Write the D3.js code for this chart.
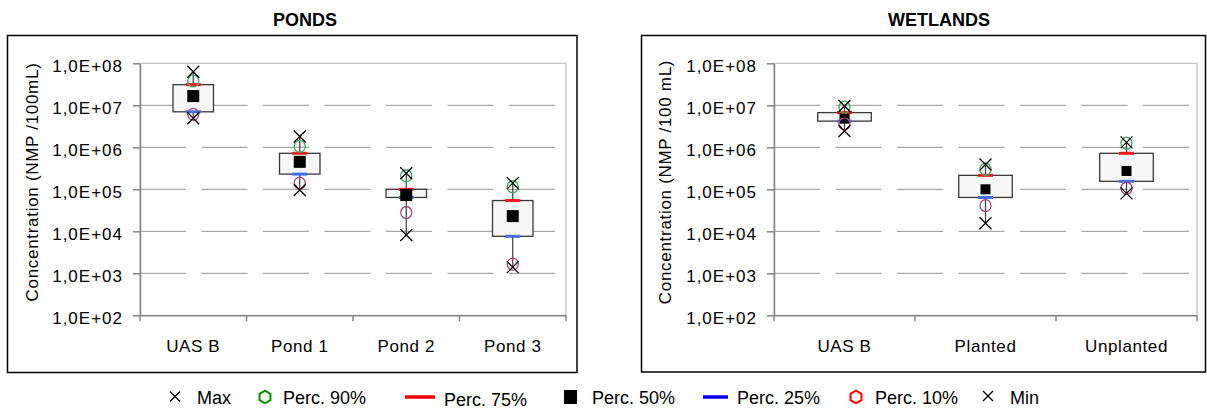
<!DOCTYPE html>
<html>
<head>
<meta charset="utf-8">
<script src="https://cdn.jsdelivr.net/npm/d3@7"></script>
<style>
  body { margin: 0; background: #fff; }
  svg { display: block; font-family: 'Liberation Sans', Arial, sans-serif; }
</style>
</head>
<body>
<svg id="chart" width="1207" height="410"></svg>
<script>
// values (NMP/100 mL)
const pondCategories = ['UAS B', 'Pond 1', 'Pond 2', 'Pond 3']
const pondMax = [6.3e7, 1.8e6, 2.4e5, 1.4e5]
const pondP90 = [3.8e7, 1.05e6, 2.1e5, 1.15e5]
const pondP75 = [3.1e7, 7.2e5, 1.0e5, 5.4e4]
const pondP50 = [1.66e7, 4.5e5, 7.3e4, 2.3e4]
const pondP25 = [7.0e6, 2.3e5, 6.4e4, 7.6e3]
const pondP10 = [6.1e6, 1.4e5, 2.8e4, 1.65e3]
const pondMin = [4.9e6, 9.6e4, 8.2e3, 1.4e3]

const wetlandCategories = ['UAS B', 'Planted', 'Unplanted']
const wetlandMax = [9.6e6, 3.9e5, 1.31e6]
const wetlandP90 = [9.0e6, 3.0e5, 1.25e6]
const wetlandP75 = [6.7e6, 2.15e5, 7.2e5]
const wetlandP50 = [4.8e6, 1.0e5, 2.73e5]
const wetlandP25 = [4.2e6, 6.4e4, 1.55e5]
const wetlandP10 = [3.6e6, 4.1e4, 1.06e5]
const wetlandMin = [2.44e6, 1.55e4, 8.0e4]

const yTickValues = [1e2, 1e3, 1e4, 1e5, 1e6, 1e7, 1e8]
const yTickLabels = ['1,0E+02', '1,0E+03', '1,0E+04', '1,0E+05', '1,0E+06', '1,0E+07', '1,0E+08']

const legendLabels = ['Max', 'Perc. 90%', 'Perc. 75%', 'Perc. 50%', 'Perc. 25%', 'Perc. 10%', 'Min']

const svg = d3.select('#chart')

const panels = [
  {
    title: 'PONDS',
    yLabel: 'Concentration (NMP /100mL)',
    categories: pondCategories,
    max: pondMax, p90: pondP90, p75: pondP75, p50: pondP50, p25: pondP25, p10: pondP10, min: pondMin,
    frame: { x0: 7.5, y0: 35.5, x1: 577, y1: 372.5 },
    plot: { left: 140, right: 566, top: 63.3, bottom: 315.3 },
    titleX: 305,
    yLabelX: 38,
    medianSize: 12
  },
  {
    title: 'WETLANDS',
    yLabel: 'Concentration (NMP /100 mL)',
    categories: wetlandCategories,
    max: wetlandMax, p90: wetlandP90, p75: wetlandP75, p50: wetlandP50, p25: wetlandP25, p10: wetlandP10, min: wetlandMin,
    frame: { x0: 641.5, y0: 35.5, x1: 1205.5, y1: 372 },
    plot: { left: 774, right: 1197, top: 63.3, bottom: 315.3 },
    titleX: 939,
    yLabelX: 671,
    medianSize: 10
  }
]

const axisGrey = '#868686'
const gridGrey = '#a9a9a9'

function cross(sel, cx, cy, h, width) {
  sel.append('path')
    .attr('d', `M${cx - h},${cy - h}L${cx + h},${cy + h}M${cx - h},${cy + h}L${cx + h},${cy - h}`)
    .attr('stroke', '#000')
    .attr('stroke-width', width)
    .attr('fill', 'none')
}

function drawPanel(p) {
  const g = svg.append('g')

  // outer chart frame
  g.append('rect')
    .attr('x', p.frame.x0)
    .attr('y', p.frame.y0)
    .attr('width', p.frame.x1 - p.frame.x0)
    .attr('height', p.frame.y1 - p.frame.y0)
    .attr('fill', 'none')
    .attr('stroke', '#000')
    .attr('stroke-width', 1.5)

  g.append('text')
    .attr('x', p.titleX)
    .attr('y', 25.5)
    .attr('text-anchor', 'middle')
    .attr('font-size', 18)
    .attr('font-weight', 700)
    .text(p.title)

  const x = d3.scaleBand()
    .domain(p.categories)
    .range([p.plot.left, p.plot.right])

  const y = d3.scaleLog()
    .domain([1e2, 1e8])
    .range([p.plot.bottom, p.plot.top])

  // plot area border
  g.append('rect')
    .attr('x', p.plot.left)
    .attr('y', p.plot.top)
    .attr('width', p.plot.right - p.plot.left)
    .attr('height', p.plot.bottom - p.plot.top)
    .attr('fill', 'none')
    .attr('stroke', '#b4b4b4')

  // long dashed grid lines
  g.selectAll('.grid')
    .data(yTickValues.filter(v => v > 1e2 && v < 1e8))
    .join('line')
    .attr('class', 'grid')
    .attr('x1', p.plot.left)
    .attr('x2', p.plot.right)
    .attr('y1', d => y(d))
    .attr('y2', d => y(d))
    .attr('stroke', gridGrey)
    .attr('stroke-width', 1.2)
    .attr('stroke-dasharray', '46,15.5')

  // y axis
  const yAxis = g.append('g')
    .attr('transform', 'translate(' + p.plot.left + ',0)')
    .call(d3.axisLeft(y)
      .tickValues(yTickValues)
      .tickFormat((d, i) => yTickLabels[i])
      .tickSize(7)
      .tickSizeOuter(0)
      .tickPadding(10))
  yAxis.select('.domain').attr('stroke', axisGrey).attr('stroke-width', 1.5)
  yAxis.selectAll('.tick line').attr('stroke', axisGrey).attr('stroke-width', 1.5)
  yAxis.selectAll('.tick text')
    .attr('font-size', 17)
    .attr('font-family', "'Liberation Sans', Arial, sans-serif")
    .attr('letter-spacing', 1)
    .attr('fill', '#000')
    .attr('dy', '0.5em')

  // x axis (labels at band centres, tick marks at band edges)
  const xAxis = g.append('g')
    .attr('transform', 'translate(0,' + p.plot.bottom + ')')
    .call(d3.axisBottom(x).tickSize(0).tickSizeOuter(0).tickPadding(24.6))
  xAxis.select('.domain').attr('stroke', axisGrey).attr('stroke-width', 1.5)
  xAxis.selectAll('.tick text')
    .attr('font-size', 17)
    .attr('font-family', "'Liberation Sans', Arial, sans-serif")
    .attr('letter-spacing', 0.6)
    .attr('fill', '#000')

  const edges = p.categories.map(c => x(c)).concat([x.range()[1]])
  g.selectAll('.xtick')
    .data(edges)
    .join('line')
    .attr('class', 'xtick')
    .attr('x1', d => d)
    .attr('x2', d => d)
    .attr('y1', p.plot.bottom)
    .attr('y2', p.plot.bottom + 6)
    .attr('stroke', axisGrey)
    .attr('stroke-width', 1.5)

  // rotated y label
  g.append('text')
    .attr('transform', 'translate(' + p.yLabelX + ',182) rotate(-90)')
    .attr('text-anchor', 'middle')
    .attr('font-size', 17)
    .attr('letter-spacing', 0.7)
    .text(p.yLabel)

  // box plots
  const rows = p.categories.map((c, i) => ({
    cat: c,
    max: p.max[i],
    p90: p.p90[i],
    p75: p.p75[i],
    p50: p.p50[i],
    p25: p.p25[i],
    p10: p.p10[i],
    min: p.min[i]
  }))
  const boxW = x.bandwidth() * 0.38
  const cx = d => x(d.cat) + x.bandwidth() / 2

  const items = g.selectAll('.item')
    .data(rows)
    .join('g')
    .attr('class', 'item')

  items.append('line')
    .attr('x1', cx)
    .attr('x2', cx)
    .attr('y1', d => y(d.max))
    .attr('y2', d => y(d.min))
    .attr('stroke', '#3a3a3a')
    .attr('stroke-width', 1.2)

  items.append('rect')
    .attr('x', d => cx(d) - boxW / 2)
    .attr('y', d => y(d.p75))
    .attr('width', boxW)
    .attr('height', d => y(d.p25) - y(d.p75))
    .attr('fill', '#f7f7f7')
    .attr('stroke', '#3a3a3a')
    .attr('stroke-width', 1.3)

  items.append('rect')
    .attr('x', d => cx(d) - 7.5)
    .attr('y', d => y(d.p75) - 1.5)
    .attr('width', 15)
    .attr('height', 3)
    .attr('fill', '#f21b1b')

  items.append('rect')
    .attr('x', d => cx(d) - 7.5)
    .attr('y', d => y(d.p25) - 1.5)
    .attr('width', 15)
    .attr('height', 3)
    .attr('fill', '#3f6ff0')

  items.append('rect')
    .attr('x', d => cx(d) - p.medianSize / 2)
    .attr('y', d => y(d.p50) - p.medianSize / 2)
    .attr('width', p.medianSize)
    .attr('height', p.medianSize)
    .attr('fill', '#000')

  items.append('ellipse')
    .attr('cx', cx)
    .attr('cy', d => y(d.p90))
    .attr('rx', 5.5)
    .attr('ry', 6)
    .attr('fill', 'none')
    .attr('stroke', '#3fa865')
    .attr('stroke-width', 1.3)

  items.append('ellipse')
    .attr('cx', cx)
    .attr('cy', d => y(d.p10))
    .attr('rx', 5.5)
    .attr('ry', 6)
    .attr('fill', 'none')
    .attr('stroke', '#b0457c')
    .attr('stroke-width', 1.3)

  items.each(function(d) {
    cross(d3.select(this), cx(d), y(d.max), 6, 1.3)
    cross(d3.select(this), cx(d), y(d.min), 6, 1.3)
  })
}

panels.forEach(drawPanel)

// legend
const legend = svg.append('g').attr('font-size', 18)
const hexagon = (px, py, r) => d3.line()(d3.range(7).map(k => {
  const a = Math.PI / 2 + k * Math.PI / 3
  return [px + r * Math.cos(a), py + r * Math.sin(a)]
}))
const legendY = 397
const legendTextX = [197, 283, 444, 592, 737, 875, 1010]
const legendBase = [404, 404, 406, 404, 404, 404, 404]

cross(legend, 175, legendY - 0.5, 5, 1.3)
legend.append('path')
  .attr('d', hexagon(265, legendY, 6.3))
  .attr('fill', 'none')
  .attr('stroke', '#009000')
  .attr('stroke-width', 2)
legend.append('line')
  .attr('x1', 405).attr('x2', 435)
  .attr('y1', legendY).attr('y2', legendY)
  .attr('stroke', '#ff0000')
  .attr('stroke-width', 3.5)
legend.append('rect')
  .attr('x', 564).attr('y', legendY - 7)
  .attr('width', 13).attr('height', 14)
  .attr('fill', '#000')
legend.append('line')
  .attr('x1', 703).attr('x2', 728)
  .attr('y1', legendY).attr('y2', legendY)
  .attr('stroke', '#0000ff')
  .attr('stroke-width', 3.5)
legend.append('path')
  .attr('d', hexagon(856, legendY, 6.3))
  .attr('fill', 'none')
  .attr('stroke', '#ff0000')
  .attr('stroke-width', 2)
cross(legend, 988, legendY - 1, 5, 1.3)

legend.selectAll('.legend-text')
  .data(legendLabels)
  .join('text')
  .attr('class', 'legend-text')
  .attr('x', (d, i) => legendTextX[i])
  .attr('y', (d, i) => legendBase[i])
  .text(d => d)
</script>
</body>
</html>
